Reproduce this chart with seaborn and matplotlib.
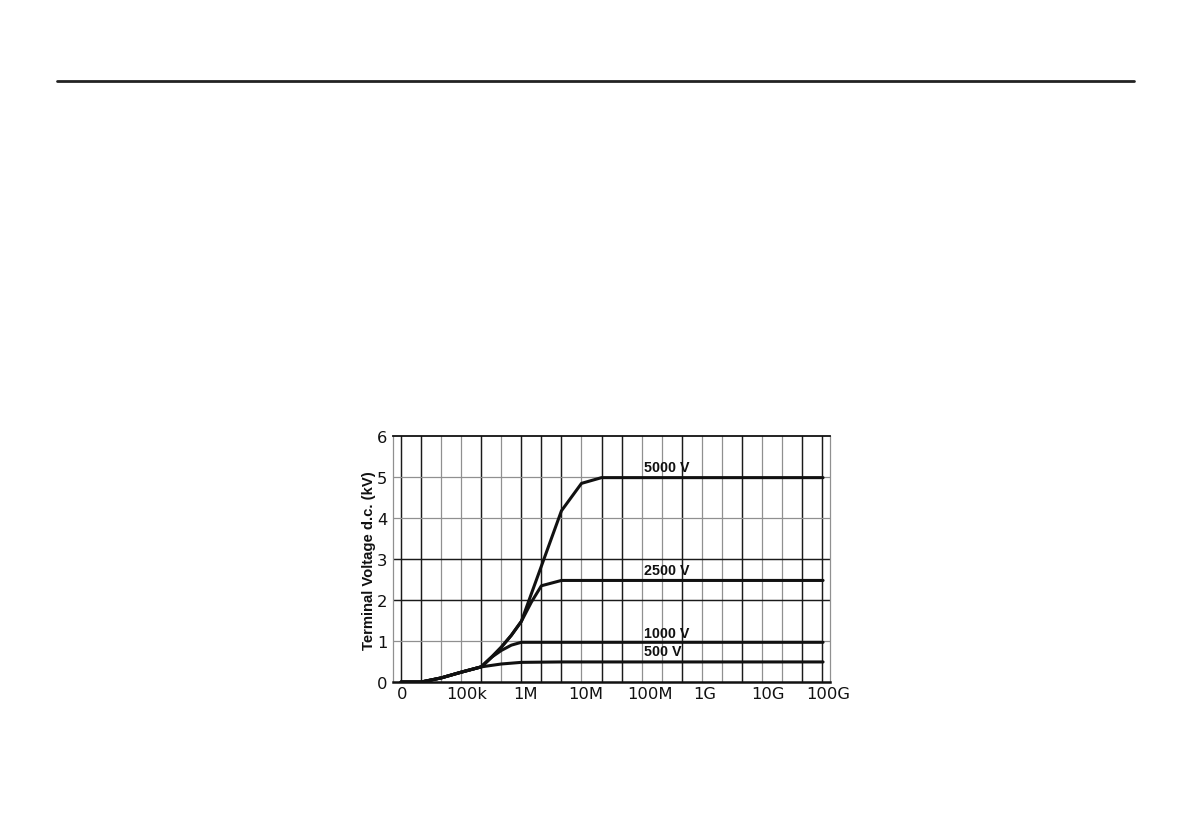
import matplotlib
matplotlib.use("Agg")
import matplotlib.pyplot as plt
from matplotlib.lines import Line2D
import seaborn as sns
import pandas as pd

# ---- data (x in chart grid-column units, y in kV) ----
common_x = [0, 1, 2, 3, 4]
common_y = [0.0, 0.0, 0.10, 0.24, 0.37]

v500_x = common_x + [5, 6, 8, 21.05]
v500_y = common_y + [0.44, 0.48, 0.49, 0.49]

v1000_x = common_x + [4.5, 5, 5.5, 6, 21.05]
v1000_y = common_y + [0.60, 0.77, 0.90, 0.97, 0.97]

v2500_x = common_x + [4.5, 5, 5.5, 6, 6.5, 7, 8, 21.05]
v2500_y = common_y + [0.60, 0.85, 1.14, 1.48, 1.95, 2.35, 2.48, 2.48]

v5000_x = common_x + [4.5, 5, 5.5, 6, 7, 8, 9, 10, 21.05]
v5000_y = common_y + [0.60, 0.85, 1.14, 1.48, 2.83, 4.18, 4.85, 4.99, 4.99]

series_names = ["500 V", "1000 V", "2500 V", "5000 V"]
label_y = [0.58, 1.03, 2.56, 5.07]

x_tick_labels = ["0", "100k", "1M", "10M", "100M", "1G", "10G", "100G"]
x_tick_pos = [0.05, 3.3, 6.2, 9.2, 12.4, 15.15, 18.3, 21.3]
y_ticks = [0, 1, 2, 3, 4, 5, 6]

# ---- build long table ----
rows = []
for name, xs, ys in zip(series_names,
                        [v500_x, v1000_x, v2500_x, v5000_x],
                        [v500_y, v1000_y, v2500_y, v5000_y]):
    for x, y in zip(xs, ys):
        rows.append({"R": x, "kV": y, "series": name})
df = pd.DataFrame(rows)

sns.set_style("white")
plt.rcParams["font.family"] = ["DejaVu Sans"]

fig = plt.figure(figsize=(11.91, 8.28), dpi=100)
ax = fig.add_axes([0.33, 0.1751, 0.3673, 0.2968])

# grid (alternating dark / light lines)
dark_cols = {0, 1, 4, 6, 7, 8, 10, 11, 14, 17, 20, 21}
for c in range(22):
    if c in dark_cols:
        ax.axvline(c, color="#1a1a1a", lw=1.05, zorder=1)
    else:
        ax.axvline(c, color="#909090", lw=0.9, zorder=1)
dark_rows = {2, 3}
for r in [1, 2, 3, 4, 5]:
    if r in dark_rows:
        ax.axhline(r, color="#1a1a1a", lw=1.05, zorder=1)
    else:
        ax.axhline(r, color="#909090", lw=0.9, zorder=1)

sns.lineplot(data=df, x="R", y="kV", hue="series", units="series",
             estimator=None, sort=False,
             palette=["#111111"] * 4, linewidth=2.2, legend=False,
             ax=ax, zorder=3)

for name, ly in zip(series_names, label_y):
    ax.text(12.1, ly, name, fontsize=10.3, fontweight="bold",
            family="Liberation Sans", color="#111111",
            ha="left", va="bottom", zorder=4)

ax.set_xlim(-0.4, 21.42)
ax.set_ylim(0, 6)
ax.set_xticks(x_tick_pos)
ax.set_xticklabels(x_tick_labels)
ax.set_yticks(y_ticks)
ax.set_yticklabels([str(v) for v in y_ticks])
ax.tick_params(axis="both", length=0, labelsize=11.8, colors="#111111")
ax.tick_params(axis="x", pad=3)
ax.tick_params(axis="y", pad=4)
ax.set_xlabel("")
ax.set_ylabel("Terminal Voltage d.c. (kV)", fontsize=10.7,
              fontweight="bold", family="Liberation Sans", color="#111111")
ax.yaxis.set_label_coords(-0.038, 0.5)

for s in ["left", "right"]:
    ax.spines[s].set_color("#909090")
    ax.spines[s].set_linewidth(0.9)
ax.spines["top"].set_color("#111111")
ax.spines["top"].set_linewidth(1.3)
ax.spines["bottom"].set_color("#111111")
ax.spines["bottom"].set_linewidth(1.8)
for s in ax.spines.values():
    s.set_visible(True)

# top page rule
fig.add_artist(Line2D([57 / 1191, 1134 / 1191], [1 - 82 / 828] * 2,
                      color="#222222", lw=2.0))

fig.savefig("out.png", dpi=100, facecolor="white")
